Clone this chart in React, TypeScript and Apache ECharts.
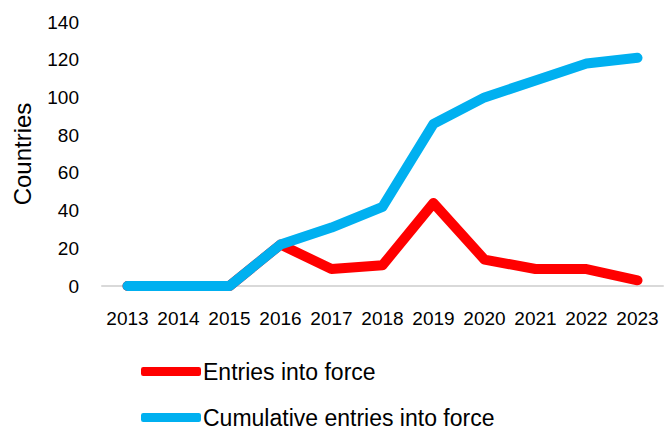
import React, { useEffect, useRef } from "react";
import * as echarts from "echarts";

const years = ["2013", "2014", "2015", "2016", "2017", "2018", "2019", "2020", "2021", "2022", "2023"];
const entries = [0, 0, 0, 22, 9, 11, 44, 14, 9, 9, 3];
const cumulative = [0, 0, 0, 22, 31, 42, 86, 100, 109, 118, 121];
const seriesNames = ["Entries into force", "Cumulative entries into force"];
const yTicks = { min: 0, max: 140, interval: 20 };

const FONT = "'Liberation Sans', Arial, sans-serif";
const RED = "#ff0000";
const BLUE = "#00b0f0";

export default function App() {
  const ref = useRef<HTMLDivElement>(null);
  useEffect(() => {
    if (!ref.current) return;
    const chart = echarts.init(ref.current, null, { renderer: "svg" });
    const legendCommon = {
      orient: "horizontal",
      left: 141,
      padding: 0,
      itemWidth: 60,
      itemHeight: 9,
      icon: "roundRect",
      textStyle: { color: "#000", fontFamily: FONT, fontSize: 23, padding: [0, 0, 0, -3] },
    };
    chart.setOption({
      animation: false,
      backgroundColor: "#ffffff",
      grid: { left: 102, right: 5, top: 22, bottom: 143, containLabel: false },
      xAxis: {
        type: "category",
        data: years,
        boundaryGap: true,
        axisLine: { show: true, lineStyle: { color: "#d9d9d9", width: 2 } },
        axisTick: { show: false },
        axisLabel: { color: "#000", fontFamily: FONT, fontSize: 19, margin: 23, interval: 0 },
      },
      yAxis: {
        type: "value",
        min: yTicks.min,
        max: yTicks.max,
        interval: yTicks.interval,
        name: "Countries",
        nameLocation: "middle",
        nameGap: 68,
        nameRotate: 90,
        nameTextStyle: { color: "#000", fontFamily: FONT, fontSize: 24 },
        axisLine: { show: false },
        axisTick: { show: false },
        splitLine: { show: false },
        axisLabel: { color: "#000", fontFamily: FONT, fontSize: 19, margin: 23 },
      },
      legend: [
        { ...legendCommon, top: 360, data: [seriesNames[0]] },
        { ...legendCommon, top: 406, data: [seriesNames[1]] },
      ],
      series: [
        {
          name: seriesNames[0],
          type: "line",
          data: entries,
          symbol: "none",
          lineStyle: { color: RED, width: 10, cap: "round", join: "round" },
          itemStyle: { color: RED },
          z: 2,
        },
        {
          name: seriesNames[1],
          type: "line",
          data: cumulative,
          symbol: "none",
          lineStyle: { color: BLUE, width: 10, cap: "round", join: "round" },
          itemStyle: { color: BLUE },
          z: 3,
        },
      ],
    });
    return () => chart.dispose();
  }, []);
  return (
    <div
      ref={ref}
      style={{ position: "fixed", left: 0, top: 0, width: 668, height: 429, background: "#fff" }}
    />
  );
}
